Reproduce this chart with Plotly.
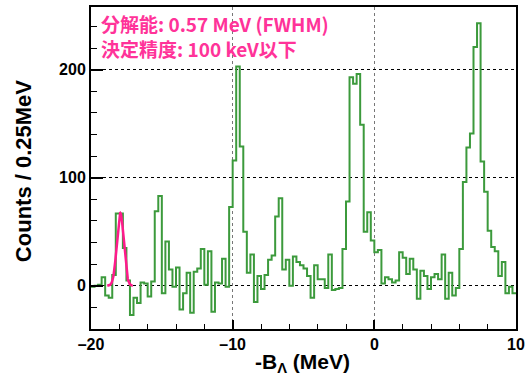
import numpy as np
import plotly.graph_objects as go

# Histogram: -B_Lambda from -20 to 10 MeV, 0.25 MeV bins
x_min = -20.0
bin_width = 0.25
counts = [
    -1, 0, 1, 8, -9, -11, 10, 67, 67, 35, 5, -27, -11, -16, 3, 2, -10, 4, 69, 83, -7, 41, 15, -1, 17,
    -22, -7, 12, -25, 13, 16, 34, 1, 32, -24, 3, 2, 25, -1, 73, 116, 203, 129, 50, 12, 29, -15, 9, -3, 10, 24, 28, 64, 81,
    15, 24, 0, 27, 22, 19, 16, 9, -11, 19, 6, 6, -2, 29, -4, -3, -2, 34, 78, 193, 187, 196, 149, 50, 68, 42,
    31, 33, 2, 8, 6, 3, 5, 31, 26, 11, 25, 15, -12, 14, 9, -3, 8, 11, 6, 29, -12, 12, -9, -2, 34, 96, 128,
    141, 221, 243, 115, 87, 51, 36, 32, 9, 22, -7, -1, -7,
]

# Gaussian fit parameters (pink curve)
fit_mean = -17.93
fit_fwhm = 0.57
fit_amp = 67.5
fit_range = [-18.85, -17.05]

x_ticks = [-20, -10, 0, 10]
x_tick_labels = ["\u201320", "\u201310", "0", "10"]
y_ticks = [0, 100, 200]
y_tick_labels = ["0", "100", "200"]

label_line1 = "分解能: 0.57 MeV (FWHM)"
label_line2 = "決定精度: 100 keV以下"

n = len(counts)
edges = x_min + bin_width * np.arange(n + 1)
hx = edges
hy = list(counts) + [counts[-1]]

sigma = fit_fwhm / 2.3548
gx = np.linspace(fit_range[0], fit_range[1], 200)
gy = fit_amp * np.exp(-0.5 * ((gx - fit_mean) / sigma) ** 2)

fig = go.Figure()
fig.add_trace(go.Scatter(x=hx, y=hy, mode="lines", line=dict(shape="hv", color="#3c9a3c", width=2),
                         hoverinfo="skip", showlegend=False))
fig.add_trace(go.Scatter(x=gx, y=gy, mode="lines", line=dict(color="#ff1a8c", width=2.5),
                         hoverinfo="skip", showlegend=False))

L, R, T, B = 91, 13, 5, 54
W, H = 530, 383
pw, ph = W - L - R, H - T - B

tickfont = dict(family="Liberation Sans, Arial", size=16, color="black", weight="bold")

fig.update_layout(
    width=W, height=H,
    margin=dict(l=L, r=R, t=T, b=B),
    paper_bgcolor="white", plot_bgcolor="white",
    xaxis=dict(range=[-20, 10], tickvals=x_ticks, ticktext=x_tick_labels,
               ticks="inside", ticklen=9, tickwidth=1.5, tickcolor="black",
               minor=dict(dtick=2, ticks="inside", ticklen=5, tickwidth=1.2, tickcolor="black", showgrid=False),
               showline=True, linecolor="black", linewidth=2, mirror=True,
               showgrid=True, gridcolor="#777777", griddash="dot", gridwidth=1.2,
               zeroline=False, tickfont=tickfont),
    yaxis=dict(range=[-40, 258], tickvals=y_ticks, ticktext=y_tick_labels,
               ticks="inside", ticklen=12, tickwidth=1.5, tickcolor="black",
               minor=dict(tick0=0, dtick=20, ticks="inside", ticklen=6, tickwidth=1.2, tickcolor="black", showgrid=False),
               showline=True, linecolor="black", linewidth=2, mirror=True,
               showgrid=True, gridcolor="black", griddash="dot", gridwidth=1.2,
               zeroline=False, tickfont=tickfont),
)

fig.add_annotation(xref="paper", yref="paper", x=(303 - L) / pw, y=(H - B - 363) / ph,
                   text="-B<sub>Λ</sub> (MeV)", showarrow=False, xanchor="center", yanchor="middle",
                   font=dict(family="Liberation Sans, Arial", size=21, color="black", weight="bold"))
fig.add_annotation(xref="paper", yref="paper", x=(24 - L) / pw, y=(H - B - 170) / ph,
                   text="Counts / 0.25MeV", showarrow=False, textangle=-90, xanchor="center", yanchor="middle",
                   font=dict(family="Liberation Sans, Arial", size=22, color="black", weight="bold"))

jpfont = dict(family="Noto Sans CJK JP", size=19, color="#ff3399", weight="bold")
fig.add_annotation(xref="paper", yref="paper", x=(100 - L) / pw, y=(H - B - 34.5) / ph,
                   text=label_line1 + "<br>" + label_line2, showarrow=False, xanchor="left", yanchor="middle",
                   align="left", font=jpfont, borderpad=0)

fig.write_html("out.html")
